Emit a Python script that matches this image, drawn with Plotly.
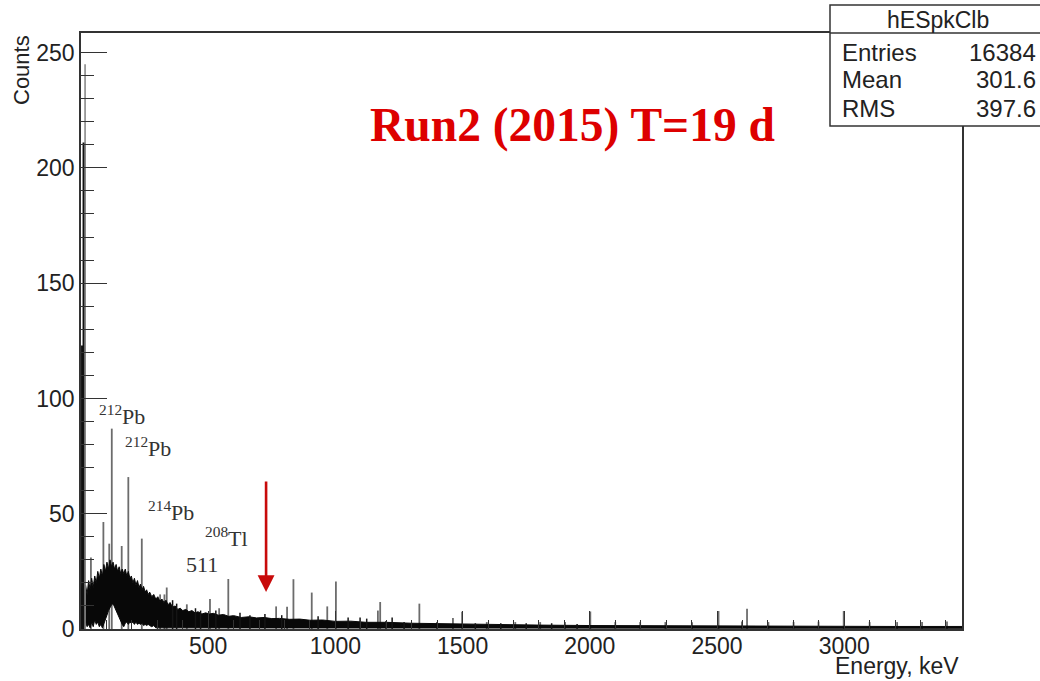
import plotly.graph_objects as go

# ---- spectrum data -------------------------------------------------------
# Continuum of the calibrated energy histogram: upper and lower envelope of
# the fluctuating channel contents (counts) at a set of energies (keV).
band_e = [0, 6, 12, 18, 24, 30, 36, 42, 48, 54, 60, 66, 72, 78, 84, 90, 96,
          102, 108, 114, 120, 126, 132, 138, 144, 150, 156, 162, 168, 174,
          180, 186, 192, 198, 204, 210, 216, 222, 228, 234, 240, 246, 252,
          258, 264, 270, 278, 286, 294, 302, 310, 318, 326, 334, 342, 350,
          360, 370, 380, 390, 400, 412, 424, 436, 448, 460, 475, 490, 505,
          520, 540, 560, 580, 600, 630, 660, 690, 720, 750, 780, 820, 860,
          900, 950, 1000, 1060, 1120, 1200, 1300, 1400, 1500, 1650, 1800,
          2000, 2200, 2400, 2600, 2800, 3000, 3200, 3463]
band_hi = [16, 20, 13, 19, 15, 21, 17, 22, 18, 23, 20, 25, 22, 26, 23, 28,
           25, 29, 26, 30, 27, 29, 26, 28, 25, 27, 24, 26, 24, 26, 23, 25,
           22, 23, 20, 22, 19, 21, 18, 19.5, 17, 18.5, 16, 17, 15, 16, 14,
           15, 13, 14, 12, 13, 11.5, 12.5, 10.5, 11.5, 9.5, 10, 8.5, 9,
           8, 8.5, 7.5, 8, 7, 7.5, 6.5, 7, 6.5, 6.8, 6, 6.3, 5.5, 5.8, 5,
           5.3, 4.8, 5, 4.5, 4.6, 4.2, 4.3, 3.8, 3.9, 3.3, 3.4, 2.9, 2.9,
           2.5, 2.3, 2.1, 1.9, 1.7, 1.5, 1.4, 1.3, 1.3, 1.2, 1.2, 1.1, 1.1]
band_lo = [0, 2, 0, 3, 1, 2, 0.5, 3, 1, 4, 2, 3, 1, 2, 0.5, 1.5, 4, 6, 8,
           9.5, 10.5, 11, 10, 8.5, 7, 5, 3.5, 2, 1, 2.5, 3, 2, 3, 2.5, 3,
           2, 3, 2, 2.5, 2, 2.5, 1.5, 2, 1.5, 2, 1.5, 1, 1.5, 0.5, 0.5, 0.3,
           0.3, 0.3, 0.3, 0.3, 0.3, 0.3, 0.3, 0.3, 0.3, 0.3, 0.3, 0.3, 0.3,
           0.3, 0.3, 0.3, 0.3, 0.3, 0.3, 0.3, 0.3, 0.3, 0.3, 0.3, 0.3, 0.3,
           0.3, 0.3, 0.3, 0.3, 0.3, 0.3, 0.3, 0.3, 0.3, 0.3, 0.3, 0.3, 0.3,
           0.3, 0.3, 0.3, 0.3, 0.3, 0.3, 0.3, 0.3, 0.3, 0.3, 0.3]

# Gamma lines standing above the continuum: energy (keV) and peak counts
line_e = [39, 88, 111, 121, 160, 186, 239, 311, 328, 337, 416, 507, 543,
          579, 767, 810, 835, 907, 968, 1002, 1167, 1176, 1330, 1399, 1462,
          1498, 1595, 1707, 1805, 1903, 2002, 2100, 2198, 2297, 2402, 2506,
          2598, 2618, 2702, 2801, 2899, 2998, 3100, 3208, 3306, 3404]
line_c = [31, 46.4, 37, 86.9, 36, 65.9, 39.2, 15, 15, 18, 10.7, 13, 9,
          21.7, 9.8, 9.7, 21.6, 15.8, 9.8, 20.6, 8, 11.7, 11, 3, 4.8, 7.5,
          3, 3, 3, 3, 7.6, 3, 3, 3, 2.9, 7.8, 3.2, 8.8, 3, 3, 3.2, 7.8, 3,
          3, 3, 3.2]

# Small fluctuations poking out of the continuum
spike_e = [360, 376, 450, 470, 530, 625, 664, 723, 789, 932, 1050, 1097,
           1123, 1199, 1223, 1270, 1550, 1650, 1750, 1850, 1950]
spike_c = [12.5, 11, 9, 8, 8, 7, 6, 6.5, 6, 5.5, 5, 5, 4.5, 3.5, 5, 3,
           2.5, 2.5, 2.5, 2.5, 2.2]

# Threshold channels at the very start of the spectrum
edge_e = [8, 12, 16]
edge_c = [123, 211, 245]

x_ticks = [500, 1000, 1500, 2000, 2500, 3000]
y_ticks = [0, 50, 100, 150, 200, 250]

stats_title = "hESpkClb"
stats_names = ["Entries", "Mean", "RMS"]
stats_values = ["16384", "301.6", "397.6"]

peak_names = ["<sup>212</sup>Pb", "<sup>212</sup>Pb", "<sup>214</sup>Pb",
              "<sup>208</sup>Tl", "511"]
peak_name_e = [161, 263, 352, 572, 474]
peak_name_c = [93, 79, 51, 40, 27.8]

arrow_e = 727.5
arrow_from, arrow_to = 64.6, 16.0

# ---- frame geometry (pixels in the 1040x681 page) -------------------------
W, H = 1040, 681
L, R, T, B = 81, 962, 33, 629


def px_x(p):
    return (p - L) / (R - L)


def px_y(p):
    return (B - p) / (B - T)


def sticks(xs, ys):
    sx, sy = [], []
    for e, c in zip(xs, ys):
        sx += [e, e, None]
        sy += [0, c, None]
    return sx, sy


SANS = "Liberation Sans"
SERIF = "Liberation Serif"
INK = "#222222"

fig = go.Figure()

lx, ly = sticks(line_e, line_c)
fig.add_trace(go.Scatter(x=lx, y=ly, mode="lines",
                         line=dict(color="#6c6c6c", width=1.8),
                         hoverinfo="skip", showlegend=False))

fig.add_trace(go.Scatter(x=band_e + band_e[::-1],
                         y=band_hi + band_lo[::-1],
                         mode="lines", fill="toself", fillcolor="#080808",
                         line=dict(color="#080808", width=1),
                         hoverinfo="skip", showlegend=False))

sx, sy = sticks(spike_e, spike_c)
fig.add_trace(go.Scatter(x=sx, y=sy, mode="lines",
                         line=dict(color="#151515", width=1.5),
                         hoverinfo="skip", showlegend=False))

for e, c, col, w in zip(edge_e, edge_c, ["#111111", "#111111", "#8a8a8a"],
                        [4, 3, 1.6]):
    ex, ey = sticks([e], [c])
    fig.add_trace(go.Scatter(x=ex, y=ey, mode="lines",
                             line=dict(color=col, width=w),
                             hoverinfo="skip", showlegend=False))

# red arrow marking the region of interest
fig.add_annotation(x=arrow_e, y=arrow_to, ax=arrow_e, ay=arrow_from,
                   xref="x", yref="y", axref="x", ayref="y", text="",
                   showarrow=True, arrowhead=2, arrowsize=1.3,
                   arrowwidth=2.6, arrowcolor="#c80a0a", standoff=0)

# isotope labels
for name, e, c in zip(peak_names, peak_name_e, peak_name_c):
    fig.add_annotation(x=e, y=c, xref="x", yref="y", text=name,
                       showarrow=False, xanchor="center", yanchor="middle",
                       font=dict(family=SERIF, size=22, color="#333333"))

# run label
fig.add_annotation(x=px_x(572), y=px_y(125), xref="paper", yref="paper",
                   text="<b>Run2 (2015) T=19 d</b>", showarrow=False,
                   xanchor="center", yanchor="middle",
                   font=dict(family=SERIF, size=47.5, color="#dd0000"))

# axis titles
fig.add_annotation(x=px_x(21), y=px_y(70), xref="paper", yref="paper",
                   text="Counts", textangle=-90, showarrow=False,
                   xanchor="center", yanchor="middle",
                   font=dict(family=SANS, size=22, color=INK))
fig.add_annotation(x=px_x(961), y=px_y(666), xref="paper", yref="paper",
                   text="Energy, keV", showarrow=False,
                   xanchor="right", yanchor="middle",
                   font=dict(family=SANS, size=23, color=INK))

# statistics box
fig.add_shape(type="rect", xref="paper", yref="paper",
              x0=px_x(830), x1=px_x(1060), y0=px_y(126), y1=px_y(5),
              fillcolor="white", line=dict(color="#333333", width=1.5),
              layer="above")
fig.add_shape(type="line", xref="paper", yref="paper",
              x0=px_x(830), x1=px_x(1060), y0=px_y(33), y1=px_y(33),
              line=dict(color="#333333", width=1.5), layer="above")
fig.add_annotation(x=px_x(938), y=px_y(20), xref="paper", yref="paper",
                   text=stats_title, showarrow=False, xanchor="center",
                   yanchor="middle", font=dict(family=SANS, size=23, color=INK))
for i, (n, v) in enumerate(zip(stats_names, stats_values)):
    yy = px_y(52 + 28 * i)
    fig.add_annotation(x=px_x(840), y=yy, xref="paper", yref="paper",
                       text=n, showarrow=False, xanchor="left",
                       yanchor="middle",
                       font=dict(family=SANS, size=24, color=INK))
    fig.add_annotation(x=px_x(1038), y=yy, xref="paper", yref="paper",
                       text=v, showarrow=False, xanchor="right",
                       yanchor="middle",
                       font=dict(family=SANS, size=24, color=INK))

axis_common = dict(showline=True, linecolor="#333333", linewidth=1.5,
                   mirror=True, ticks="inside", tickcolor="#333333",
                   tickwidth=1.3, showgrid=False, zeroline=False,
                   tickfont=dict(family=SANS, size=23, color=INK))

fig.update_layout(
    width=W, height=H,
    margin=dict(l=L, r=W - R, t=T, b=H - B, pad=0),
    paper_bgcolor="white", plot_bgcolor="white",
    showlegend=False,
    xaxis=dict(range=[0, 3463], tickmode="array", tickvals=x_ticks,
               ticktext=[str(v) for v in x_ticks], ticklen=18,
               ticklabelstandoff=-4,
               minor=dict(ticks="inside", ticklen=9, dtick=100, tick0=0,
                          tickcolor="#333333", tickwidth=1.2),
               **axis_common),
    yaxis=dict(range=[0, 258.5], tickmode="array", tickvals=y_ticks,
               ticktext=[str(v) for v in y_ticks], ticklen=26,
               minor=dict(ticks="inside", ticklen=13, dtick=10, tick0=0,
                          tickcolor="#333333", tickwidth=1.2),
               **axis_common),
)

fig.write_html("out.html")
